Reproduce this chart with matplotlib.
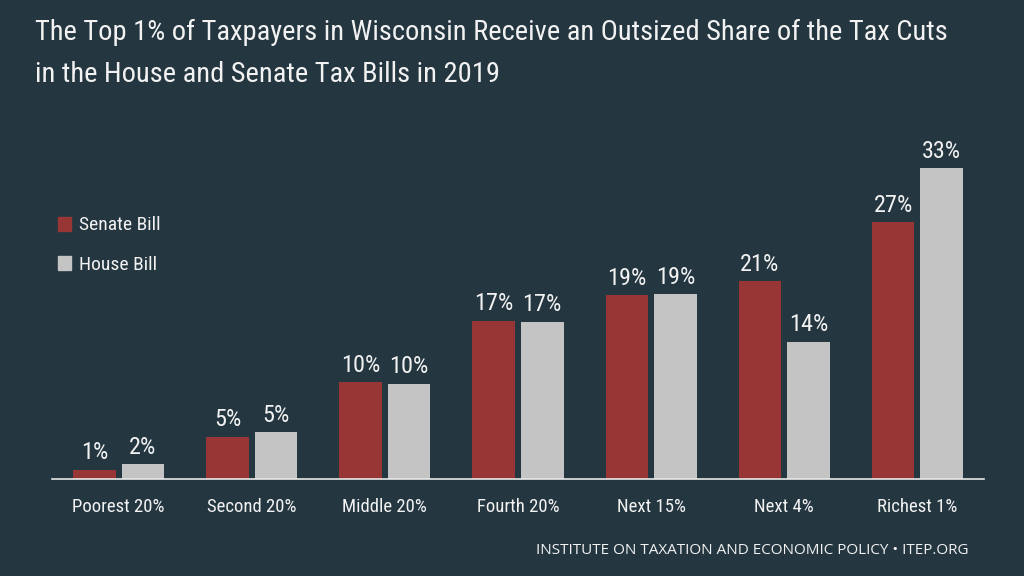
import matplotlib
matplotlib.use("Agg")
import matplotlib.pyplot as plt
from matplotlib import font_manager as fm
from matplotlib.patches import Patch

# ---- data ----
categories = ["Poorest 20%", "Second 20%", "Middle 20%", "Fourth 20%",
              "Next 15%", "Next 4%", "Richest 1%"]
senate_values = [1.0, 4.5, 10.3, 16.8, 19.5, 21.0, 27.3]
house_values = [1.6, 5.0, 10.1, 16.7, 19.6, 14.6, 33.0]
senate_labels = ["1%", "5%", "10%", "17%", "19%", "21%", "27%"]
house_labels = ["2%", "5%", "10%", "17%", "19%", "14%", "33%"]
series_names = ["Senate Bill", "House Bill"]
title = ("The Top 1% of Taxpayers in Wisconsin Receive an Outsized Share of the Tax Cuts\n"
         "in the House and Senate Tax Bills in 2019")
footer = "INSTITUTE ON TAXATION AND ECONOMIC POLICY • ITEP.ORG"

# ---- fonts ----
available = {f.name for f in fm.fontManager.ttflist}
cond = None
for cand in ["Liberation Sans Narrow", "Roboto Condensed", "Open Sans Condensed",
             "Noto Sans Condensed", "DejaVu Sans Condensed"]:
    if cand in available:
        cond = cand
        break
cond_family = [cond, "DejaVu Sans"] if cond else ["DejaVu Sans"]
reg_family = ["Open Sans", "DejaVu Sans"] if "Open Sans" in available else ["DejaVu Sans"]

BG = "#243640"
RED = "#983636"
GRAY = "#c4c4c4"
TXT = "#f2f2f2"

fig = plt.figure(figsize=(10.24, 5.76), dpi=100, facecolor=BG)
ax = fig.add_axes([52 / 1024, 97 / 576, 932 / 1024, 339 / 576], facecolor=BG)

x = list(range(len(categories)))
w = 0.32
off = 0.182
xs = [i - off for i in x]
xh = [i + off for i in x]
ax.bar(xs, senate_values, width=w, color=RED, label=series_names[0])
ax.bar(xh, house_values, width=w, color=GRAY, label=series_names[1])

for xi, v, lab in zip(xs, senate_values, senate_labels):
    ax.annotate(lab, (xi, v), xytext=(0, 7.5), textcoords="offset points",
                ha="center", va="baseline", color=TXT, fontsize=17.5, family=cond_family)
for xi, v, lab in zip(xh, house_values, house_labels):
    ax.annotate(lab, (xi, v), xytext=(0, 7.5), textcoords="offset points",
                ha="center", va="baseline", color=TXT, fontsize=17.5, family=cond_family)

ax.set_xlim(-0.5, 6.5)
ax.set_ylim(0, 36)
ax.set_xticks(x)
ax.set_xticklabels(categories, family=cond_family, fontsize=13.5, color=TXT)
ax.tick_params(axis="x", length=0, pad=14)
ax.set_yticks([])
for s in ["top", "right", "left"]:
    ax.spines[s].set_visible(False)
ax.spines["bottom"].set_color("#e8e8e8")
ax.spines["bottom"].set_linewidth(1.2)

handles = [Patch(color=RED), Patch(color=GRAY)]
fig.legend(handles, series_names, loc="upper left",
           bbox_to_anchor=(40 / 1024, 1 - 199 / 576), frameon=False,
           prop={"family": cond_family, "size": 14}, labelcolor=TXT,
           handlelength=0.7, handleheight=0.7, handletextpad=0.4,
           labelspacing=1.1)

fig.text(35 / 1024, 1 - 19 / 576, title, ha="left", va="top", color=TXT,
         fontsize=20.5, family=cond_family, linespacing=1.72)
fig.text(969 / 1024, 1 - 550 / 576, footer, ha="right", va="center", color=TXT,
         fontsize=11, family=reg_family)

fig.savefig("out.png", dpi=100, facecolor=BG)
